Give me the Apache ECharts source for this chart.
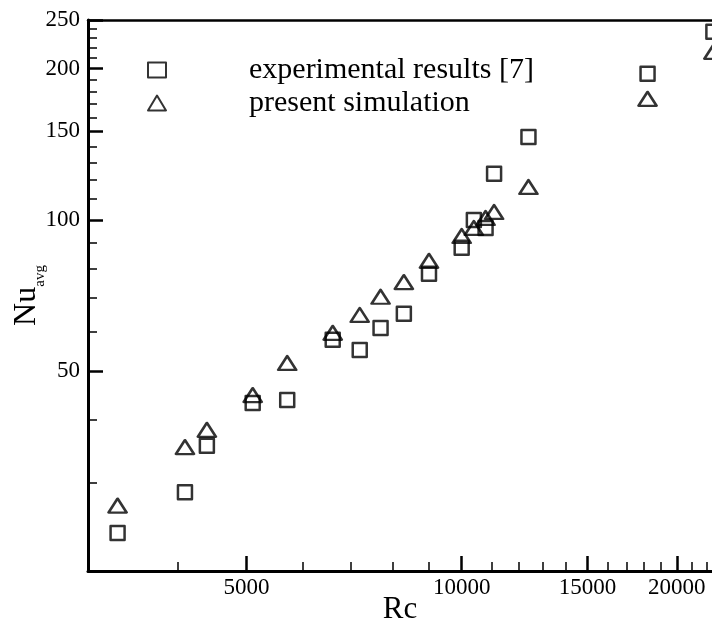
<!DOCTYPE html>
<html>
<head>
<meta charset="utf-8">
<title>Nu avg vs Rc</title>
<script src="https://cdn.jsdelivr.net/npm/echarts@6/dist/echarts.min.js"></script>
<style>
    html, body { margin: 0; padding: 0; background: #fff; }
    #chart { width: 712px; height: 624px; }
</style>
</head>
<body>
<div id="chart"></div>
<script>
// Rc of each measured / simulated case
const rcValues = [3300, 4100, 4400, 5100, 5700, 6600, 7200, 7700, 8300, 9000, 10000, 10400, 10800, 11100, 12400, 18200, 22500];
// Nu_avg from the experiments [7]
const nuExperimental = [23.8, 28.7, 35.5, 43.2, 43.8, 57.7, 55.1, 60.9, 65.0, 78.1, 88.0, 100, 96.4, 123.5, 146.3, 195.4, 236.9];
// Nu_avg from the present simulation
const nuSimulation = [27.0, 35.3, 38.2, 44.8, 51.9, 59.6, 64.7, 70.3, 75.2, 82.9, 92.9, 96.4, 100.9, 103.7, 116.3, 174.2, 216.1];

// axis ticks
const xMajorTicks = [5000, 10000, 15000, 20000];
const xMinorTicks = [4000, 6000, 7000, 8000, 9000, 11000, 12000, 13000, 14000, 16000, 17000, 18000, 19000, 21000, 22000];
const yMajorTicks = [50, 100, 150, 200, 250];
const yMinorTicks = [30, 40, 60, 70, 80, 90, 110, 120, 130, 140, 160, 170, 180, 190, 210, 220, 230, 240];

const seriesNames = ['experimental results [7]', 'present simulation'];

const font = 'Liberation Serif';
const chart = echarts.init(document.getElementById('chart'));

const xMin = 3000, xMax = 22400;
const yMin = 20, yMax = 250;

function plainLabel(v) {
    return String(Math.round(v));
}

const option = {
    animation: false,
    backgroundColor: '#fff',
    grid: {
        left: 88,
        top: 20,
        right: 0,
        bottom: 53,
        containLabel: false,
        outerBoundsMode: 'none'
    },
    legend: {
        orient: 'vertical',
        left: 142,
        top: 50,
        itemWidth: 18,
        itemHeight: 15,
        itemGap: 3,
        selectedMode: false,
        data: seriesNames,
        textStyle: {
            fontFamily: font,
            fontSize: 30,
            color: '#000',
            lineHeight: 28,
            padding: [0, 0, 0, 78]
        }
    },
    xAxis: [
        {
            type: 'log',
            position: 'bottom',
            min: xMin,
            max: xMax,
            name: 'Rc',
            nameLocation: 'middle',
            nameGap: 23,
            nameMoveOverlap: false,
            nameTextStyle: { fontFamily: font, fontSize: 31, color: '#000' },
            axisLine: { show: true, lineStyle: { color: '#000', width: 3 } },
            axisTick: { show: true, inside: true, length: 15, customValues: xMajorTicks, lineStyle: { color: '#000', width: 2.5 } },
            axisLabel: { show: true, customValues: xMajorTicks, margin: 5, fontFamily: font, fontSize: 23, color: '#000', formatter: plainLabel },
            splitLine: { show: false },
            minorTick: { show: false }
        },
        {
            type: 'log',
            position: 'bottom',
            min: xMin,
            max: xMax,
            axisLine: { show: false },
            axisTick: { show: true, inside: true, length: 9, customValues: xMinorTicks, lineStyle: { color: '#000', width: 1.5 } },
            axisLabel: { show: false },
            splitLine: { show: false }
        },
        {
            type: 'log',
            position: 'top',
            min: xMin,
            max: xMax,
            axisLine: { show: true, lineStyle: { color: '#000', width: 2.5 } },
            axisTick: { show: false },
            axisLabel: { show: false },
            splitLine: { show: false }
        }
    ],
    yAxis: [
        {
            type: 'log',
            position: 'left',
            min: yMin,
            max: yMax,
            name: '{n|Nu}{s|avg}',
            nameLocation: 'middle',
            nameRotate: 90,
            nameGap: 40,
            nameMoveOverlap: false,
            nameTextStyle: {
                color: '#000',
                rich: {
                    n: { fontFamily: font, fontSize: 32, lineHeight: 43, color: '#000' },
                    s: { fontFamily: font, fontSize: 15, lineHeight: 11, verticalAlign: 'bottom', color: '#000' }
                }
            },
            axisLine: { show: true, lineStyle: { color: '#000', width: 3 } },
            axisTick: { show: true, inside: true, length: 15, customValues: yMajorTicks, lineStyle: { color: '#000', width: 2.5 } },
            axisLabel: { show: true, customValues: yMajorTicks, margin: 8, fontFamily: font, fontSize: 23, color: '#000', formatter: plainLabel },
            splitLine: { show: false },
            minorTick: { show: false }
        },
        {
            type: 'log',
            position: 'left',
            min: yMin,
            max: yMax,
            axisLine: { show: false },
            axisTick: { show: true, inside: true, length: 9, customValues: yMinorTicks, lineStyle: { color: '#000', width: 1.5 } },
            axisLabel: { show: false },
            splitLine: { show: false }
        }
    ],
    series: [
        {
            name: seriesNames[0],
            type: 'scatter',
            xAxisIndex: 0,
            yAxisIndex: 0,
            clip: false,
            symbol: 'rect',
            symbolSize: 14,
            itemStyle: { color: 'rgba(0,0,0,0)', borderColor: '#000', borderWidth: 2.5, borderJoin: 'round' },
            data: rcValues.map((rc, i) => [rc, nuExperimental[i]])
        },
        {
            name: seriesNames[1],
            type: 'scatter',
            xAxisIndex: 0,
            yAxisIndex: 0,
            clip: false,
            symbol: 'triangle',
            symbolSize: [18, 14],
            itemStyle: { color: 'rgba(0,0,0,0)', borderColor: '#000', borderWidth: 2.5, borderJoin: 'round' },
            data: rcValues.map((rc, i) => [rc, nuSimulation[i]])
        }
    ]
};

chart.setOption(option);

window.addEventListener('resize', () => {
    chart.resize();
});
</script>
</body>
</html>
